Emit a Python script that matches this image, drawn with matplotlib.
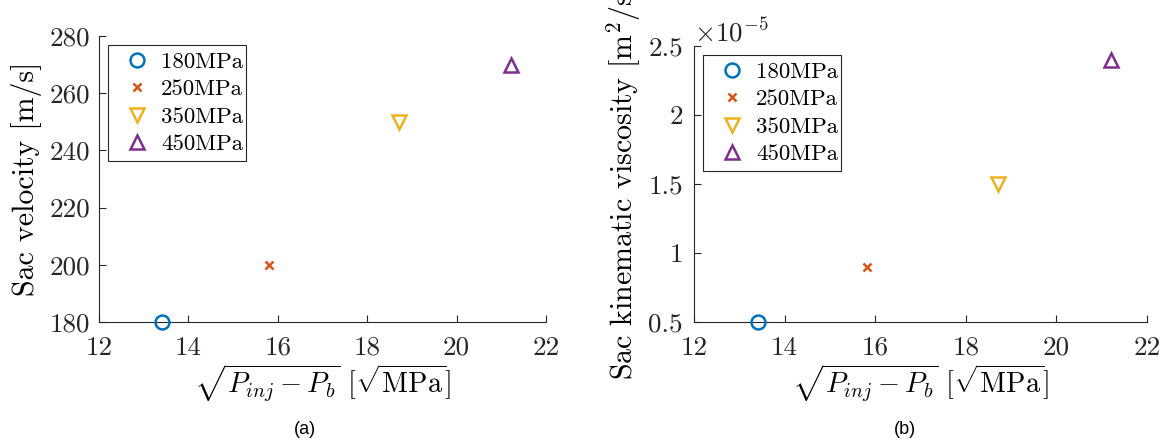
import numpy as np
import matplotlib
matplotlib.use('Agg')
import matplotlib.pyplot as plt
from matplotlib.ticker import FuncFormatter
from matplotlib.patches import Rectangle
from matplotlib.transforms import IdentityTransform

plt.rcParams['font.family'] = ['cmr10', 'DejaVu Serif']
plt.rcParams['mathtext.fontset'] = 'cm'
plt.rcParams['axes.formatter.use_mathtext'] = True

# data
labels = ['180MPa', '250MPa', '350MPa', '450MPa']
x_vals = [13.42, 15.81, 18.71, 21.21]
velocity = [180, 200, 250, 270]
viscosity = [0.5e-5, 0.9e-5, 1.5e-5, 2.4e-5]

markers = ['o', 'x', 'v', '^']
colors = ['#0072BD', '#D95319', '#EDB120', '#7E2F8E']

W, H = 1165, 445
fig = plt.figure(figsize=(W / 100, H / 100), dpi=100)
ax1 = fig.add_axes([99 / W, 1 - 322 / H, 447 / W, 286 / H])
ax2 = fig.add_axes([694 / W, 1 - 322 / H, 453 / W, 276 / H])

xlabel = r'$\sqrt{P_{inj}-P_b}\ [\sqrt{\mathrm{MPa}}]$'

legs = []
for ax, yv in [(ax1, velocity), (ax2, viscosity)]:
    for i in range(len(labels)):
        fill = colors[i] if markers[i] == 'x' else 'none'
        ax.plot(x_vals[i], yv[i], linestyle='none', marker=markers[i],
                markersize=10 if markers[i] != 'x' else 6, markeredgewidth=1.8,
                markeredgecolor=colors[i], markerfacecolor=fill,
                label=labels[i], clip_on=False, zorder=3)
    ax.set_xlim(12, 22)
    ax.set_xticks([12, 14, 16, 18, 20, 22])
    ax.xaxis.set_major_formatter(FuncFormatter(lambda v, p: '%g' % v))
    ax.spines['top'].set_visible(False)
    ax.spines['right'].set_visible(False)
    for s in ['left', 'bottom']:
        ax.spines[s].set_color('#262626')
        ax.spines[s].set_linewidth(0.8)
    ax.tick_params(direction='in', length=5, labelsize=19.5, colors='#262626')
    ax.tick_params(axis='x', pad=10)
    ax.set_xlabel(xlabel, fontsize=20.5, labelpad=2)
    leg = ax.legend(loc='upper left', fontsize=16.5, frameon=False,
                    handletextpad=0.1, borderpad=0.3, labelspacing=0.32,
                    handlelength=1.9, borderaxespad=0.4)
    legs.append(leg)

ax1.set_ylim(180, 280)
ax1.set_yticks([180, 200, 220, 240, 260, 280])
ax1.yaxis.set_major_formatter(FuncFormatter(lambda v, p: '%g' % v))
ax1.tick_params(axis='y', pad=6)
ax1.set_ylabel('Sac velocity [m/s]', fontsize=21.5, labelpad=6)

ax2.set_ylim(0.5e-5, 2.5e-5)
ax2.set_yticks([0.5e-5, 1e-5, 1.5e-5, 2e-5, 2.5e-5])
ax2.tick_params(axis='y', pad=8)
ax2.yaxis.set_major_formatter(FuncFormatter(lambda v, p: '%g' % round(v / 1e-5, 3)))
ax2.text(0.0, 1.0, r'$\times 10^{-5}$', transform=ax2.transAxes,
         fontsize=19.5, ha='left', va='bottom', color='#262626')
ax2.set_ylabel(r'Sac kinematic viscosity [m$^2$/s]', fontsize=21.5, labelpad=4)

fig.text(305 / W, 1 - 430 / H, '(a)', ha='center', va='center',
         fontsize=13, family='Liberation Sans')
fig.text(905 / W, 1 - 430 / H, '(b)', ha='center', va='center',
         fontsize=13, family='Liberation Sans')

# legend frames drawn by hand, the automatic one comes out too wide
fig.canvas.draw()
renderer = fig.canvas.get_renderer()
for leg in legs:
    bb = leg.get_window_extent(renderer)
    fig.add_artist(Rectangle((bb.x0, bb.y0), 138, bb.height,
                             transform=IdentityTransform(), fill=False,
                             edgecolor='#262626', linewidth=0.8))

fig.savefig('out.png', dpi=100)
